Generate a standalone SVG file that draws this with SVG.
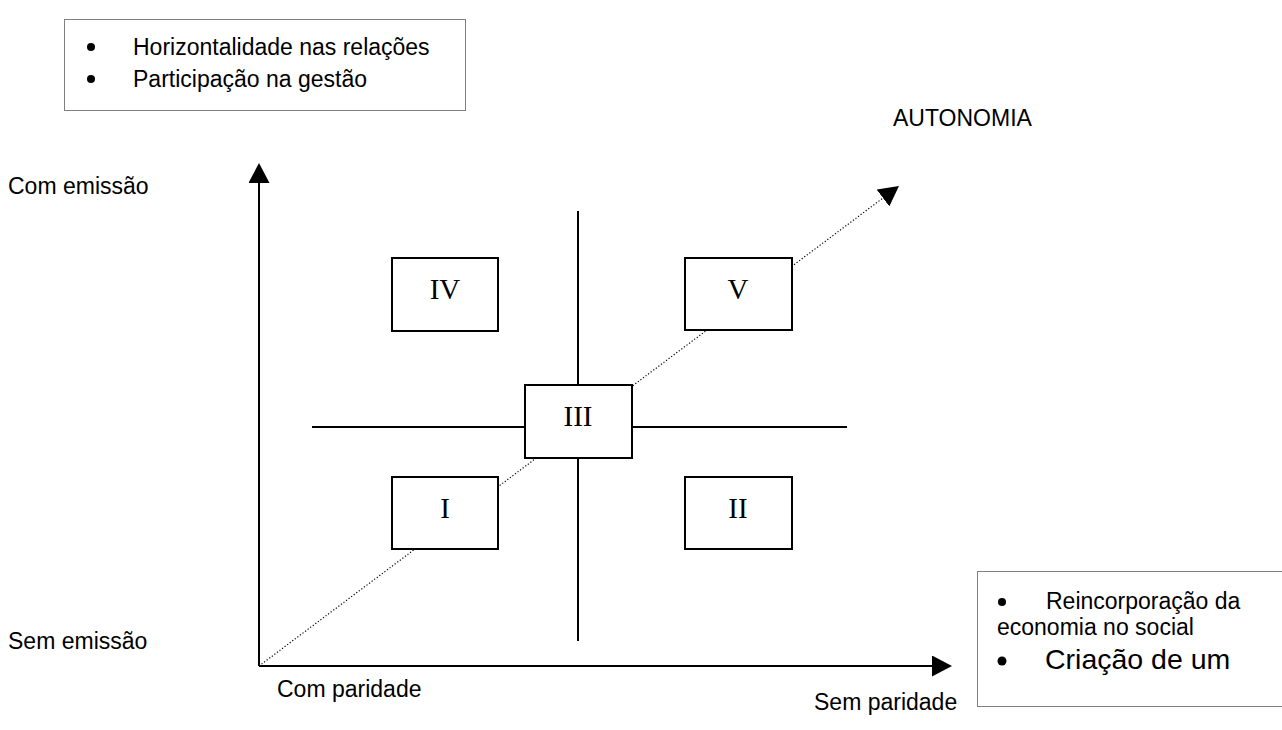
<svg xmlns="http://www.w3.org/2000/svg" width="1282" height="730" viewBox="0 0 1282 730">
<style>
.t{font-family:"Liberation Sans",Arial,sans-serif;font-size:23px;fill:#000}
.r{font-family:"Liberation Serif","Times New Roman",serif;font-size:29px;fill:#000;text-anchor:middle}
.box{fill:#fff;stroke:#000;stroke-width:2}
.dot{fill:none;stroke:#000;stroke-width:1;stroke-dasharray:1 1}
.ax{stroke:#000;stroke-width:2;fill:none}
</style>
<defs>
<marker id="ah" viewBox="0 0 20 21" refX="0" refY="10.5" markerWidth="20" markerHeight="21" markerUnits="userSpaceOnUse" orient="auto">
<path d="M0,0 L20,10.5 L0,21 Z" fill="#000"/>
</marker>
</defs>
<g id="note-top">
<rect class="dot" x="64.5" y="19.5" width="401" height="91"/>
<circle cx="91" cy="47" r="4"/>
<text class="t" x="133" y="55">Horizontalidade nas relações</text>
<circle cx="91" cy="79" r="4"/>
<text class="t" x="133" y="87">Participação na gestão</text>
</g>
<g id="note-bottom">
<rect class="dot" x="977.5" y="571.5" width="320" height="135"/>
<circle cx="1002" cy="602" r="4"/>
<text class="t" x="1046" y="609">Reincorporação da</text>
<text class="t" x="997" y="635">economia no social</text>
<circle cx="1002" cy="661" r="4.5"/>
<text class="t" x="1045" y="669" style="font-size:28.5px">Criação de um</text>
</g>
<g id="connectors">
<line class="ax" x1="259" y1="666" x2="259" y2="183" marker-end="url(#ah)"/>
<line class="ax" x1="259" y1="666" x2="932" y2="666" marker-end="url(#ah)"/>
<line x1="259" y1="666" x2="883" y2="198" stroke="#000" stroke-width="1.2" stroke-dasharray="1.2 2" marker-end="url(#ah)"/>
<line stroke="#000" stroke-width="2" x1="578" y1="211" x2="578" y2="641"/>
<line stroke="#000" stroke-width="2" x1="312" y1="427" x2="847" y2="427"/>
</g>
<g id="box-IV"><rect class="box" x="392" y="258" width="106" height="73"/><text class="r" x="445" y="299">IV</text></g>
<g id="box-V"><rect class="box" x="685" y="258" width="107" height="72"/><text class="r" x="738" y="299">V</text></g>
<g id="box-III"><rect class="box" x="525" y="385" width="107" height="73"/><text class="r" x="578" y="426">III</text></g>
<g id="box-I"><rect class="box" x="392" y="477" width="106" height="72"/><text class="r" x="445" y="518">I</text></g>
<g id="box-II"><rect class="box" x="685" y="477" width="107" height="72"/><text class="r" x="738" y="518">II</text></g>
<g id="labels">
<text class="t" x="893" y="126">AUTONOMIA</text>
<text class="t" x="8" y="194">Com emissão</text>
<text class="t" x="8" y="649">Sem emissão</text>
<text class="t" x="277" y="697">Com paridade</text>
<text class="t" x="814" y="710">Sem paridade</text>
</g>
</svg>
